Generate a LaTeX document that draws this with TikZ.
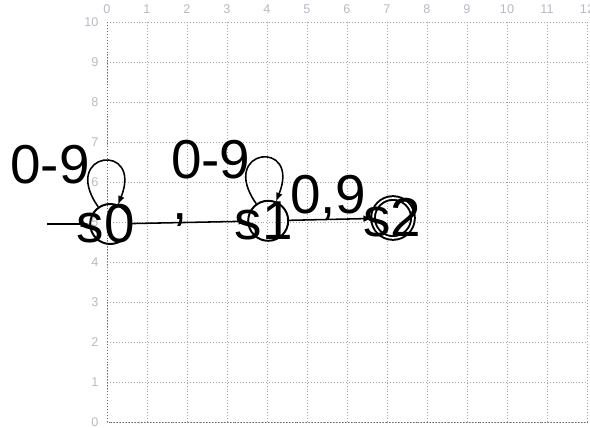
\documentclass[tikz,border=0pt]{standalone}
\usepackage{fontspec}
\setmainfont{Liberation Sans}
\usepackage{tikz}
\usetikzlibrary{arrows}
\definecolor{gridgray}{RGB}{165,165,165}
\definecolor{axisgray}{RGB}{105,105,105}
\definecolor{ticklabel}{RGB}{185,185,198}

\begin{document}
\begin{tikzpicture}[
	state/.style={circle, draw, line width=1.4pt, minimum size=1cm, inner sep=0pt},
	bigtext/.style={font=\fontsize{39}{42}\selectfont},
	statename/.style={bigtext, xshift=-0.11cm},
	edge/.style={line width=1.1pt, -latex},
	selfloop/.style={out=125, in=68, looseness=8, min distance=1.7cm},
	tick/.style={font=\fontsize{9}{10}\selectfont, text=ticklabel, inner sep=1pt}
]
	\useasboundingbox (-2.675,-0.125) rectangle (12.075,10.55);

	% background grid
	\draw[gridgray, dash pattern=on 0.7pt off 1.4pt] (0,0) grid (12,10);
	\draw[axisgray, dash pattern=on 0.7pt off 1.4pt] (0,10) -- (0,0) -- (12,0);

	% grid numbers
	\foreach \x in {0,...,12} \node[tick] (top\x) at (\x,10.33) {\x};
	\foreach \y in {0,...,10} \node[tick, anchor=east] (left\y) at (-0.17,\y) {\y};

	% states
	\node[state, label={[statename]center:s0}] (s0) at (0.08,4.95) {};
	\node[state, label={[statename]center:s1}] (s1) at (4.03,5.03) {};
	\node[state, double, double distance=1.2pt, label={[bigtext, xshift=-0.02cm]center:s2}] (s2) at (7.15,5.1) {};

	% start arrow
	\coordinate (start) at (-1.5,4.95);
	\draw[edge] (start) -- (s0);

	% transitions
	\draw[edge] (s0) to[selfloop] node[bigtext, left, pos=0.39] {0-9} (s0);
	\draw[edge] (s0) -- node[bigtext, anchor=base, pos=0.42, yshift=2pt] {,} (s1);
	\draw[edge] (s1) to[selfloop] node[bigtext, left, pos=0.43] {0-9} (s1);
	\draw[edge] (s1) -- node[bigtext, anchor=base, pos=0.47, yshift=4pt] {0,9} (s2);

\end{tikzpicture}
\end{document}
